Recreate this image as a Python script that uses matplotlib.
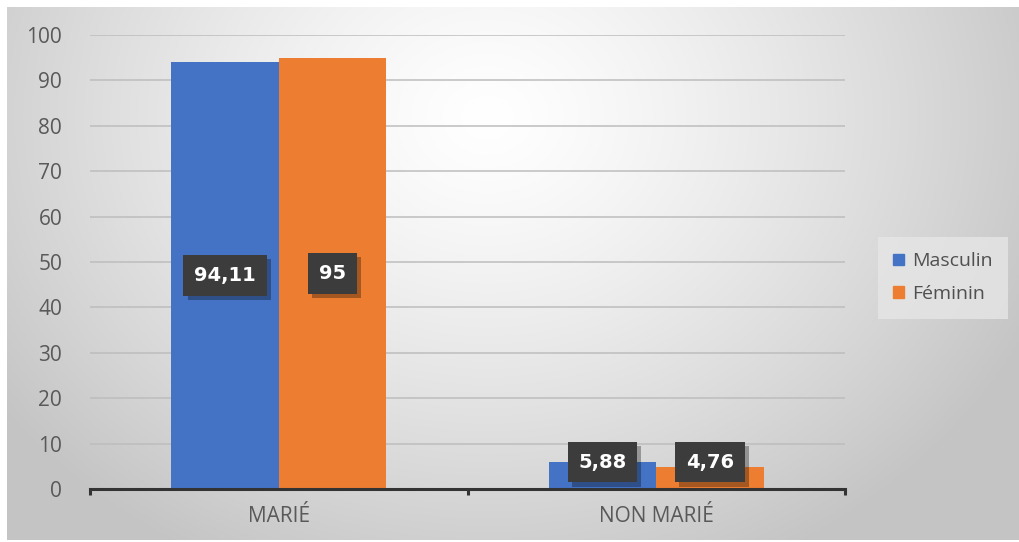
import numpy as np
import matplotlib
matplotlib.use("Agg")
import matplotlib.pyplot as plt
from matplotlib.patches import Rectangle
import matplotlib.patheffects as pe

categories = ["MARIÉ", "NON MARIÉ"]
series_names = ["Masculin", "Féminin"]
masculin = [94.11, 5.88]
feminin = [95, 4.76]
value_labels = [["94,11", "5,88"], ["95", "4,76"]]
y_ticks = [0, 10, 20, 30, 40, 50, 60, 70, 80, 90, 100]

colors = ["#4472C4", "#ED7D31"]
text_color = "#595959"
plt.rcParams["font.family"] = ["Open Sans", "DejaVu Sans"]

W, H = 1019, 542
fig = plt.figure(figsize=(W / 100, H / 100), dpi=100)
fig.patch.set_facecolor("white")

# Chart area with a radial grey gradient
bg = fig.add_axes([7 / W, 2 / H, 1012 / W, 533 / H])
bg.set_axis_off()
yy, xx = np.mgrid[0:533, 0:1012]
cx, cy = 480, 110
r = np.sqrt(((xx - cx) / 600.0) ** 2 + ((yy - cy) / 500.0) ** 2)
t = np.clip(r, 0, 1) ** 1.3
c0 = np.array([1.0, 1.0, 1.0])
c1 = np.array([0.77, 0.77, 0.77])
img = c0[None, None, :] * (1 - t[..., None]) + c1[None, None, :] * t[..., None]
bg.imshow(img, aspect="auto", extent=[0, 1, 0, 1], origin="upper")
bg.set_xlim(0, 1)
bg.set_ylim(0, 1)

# Plot area
left, right = 90, 845
top, bottom = 35, 489
ax = fig.add_axes([left / W, (H - bottom) / H, (right - left) / W, (bottom - top) / H])
ax.patch.set_alpha(0)

x = np.arange(len(categories))
bw = 0.285
series = [masculin, feminin]
offsets = [-bw / 2, bw / 2]
for s, (vals, off, col) in enumerate(zip(series, offsets, colors)):
    ax.bar(x + off, vals, width=bw, color=col, zorder=3, label=series_names[s])

ax.set_xlim(-0.5, 1.5)
ax.set_ylim(0, 100)
ax.set_yticks(y_ticks)
ax.set_yticklabels([str(v) for v in y_ticks], fontsize=15, color=text_color)
ax.tick_params(axis="y", length=0, pad=20)
ax.set_xticks(x)
ax.set_xticklabels(categories, fontsize=15, color=text_color)
ax.tick_params(axis="x", length=0, pad=12)
ax.grid(axis="y", color="#bdbdbd", linewidth=1.1, zorder=0)
for sp in ["top", "right", "left"]:
    ax.spines[sp].set_visible(False)
ax.spines["bottom"].set_color("#333333")
ax.spines["bottom"].set_linewidth(2.2)
ax.spines["bottom"].set_zorder(4)

# category boundary ticks
for xb in [-0.5, 0.5, 1.5]:
    ax.plot([xb, xb], [0, -1.3], color="#333333", lw=2.2, clip_on=False, zorder=4,
            solid_capstyle="butt")

# value labels in dark boxes with a soft drop shadow
for i in range(len(categories)):
    group_max = max(s[i] for s in series)
    for s, (vals, off) in enumerate(zip(series, offsets)):
        v = vals[i]
        ypos = v / 2 if v > 20 else group_max
        txt = ax.text(x[i] + off, ypos, value_labels[s][i], ha="center", va="center",
                      fontsize=14, fontweight="bold", color="white", zorder=6,
                      family=["DejaVu Sans"],
                      bbox=dict(boxstyle="square,pad=0.55", fc="#3c3c3c", ec="none"))
        txt.get_bbox_patch().set_path_effects(
            [pe.SimplePatchShadow(offset=(3, -3), shadow_rgbFace="black", alpha=0.3),
             pe.Normal()])

# legend
leg = fig.legend(handles=[Rectangle((0, 0), 1, 1, color=c) for c in colors],
                 labels=series_names, loc="upper left",
                 bbox_to_anchor=(874 / W, 1 - 233 / H), frameon=True, fontsize=14,
                 handlelength=0.55, handleheight=0.55, handletextpad=0.4,
                 labelspacing=0.75, borderpad=0.5, labelcolor="#505050")
leg.get_frame().set_facecolor("#e6e6e6")
leg.get_frame().set_edgecolor("none")
leg.get_frame().set_alpha(0.8)
leg.get_frame().set_boxstyle("square")

fig.savefig("out.png", dpi=100)
